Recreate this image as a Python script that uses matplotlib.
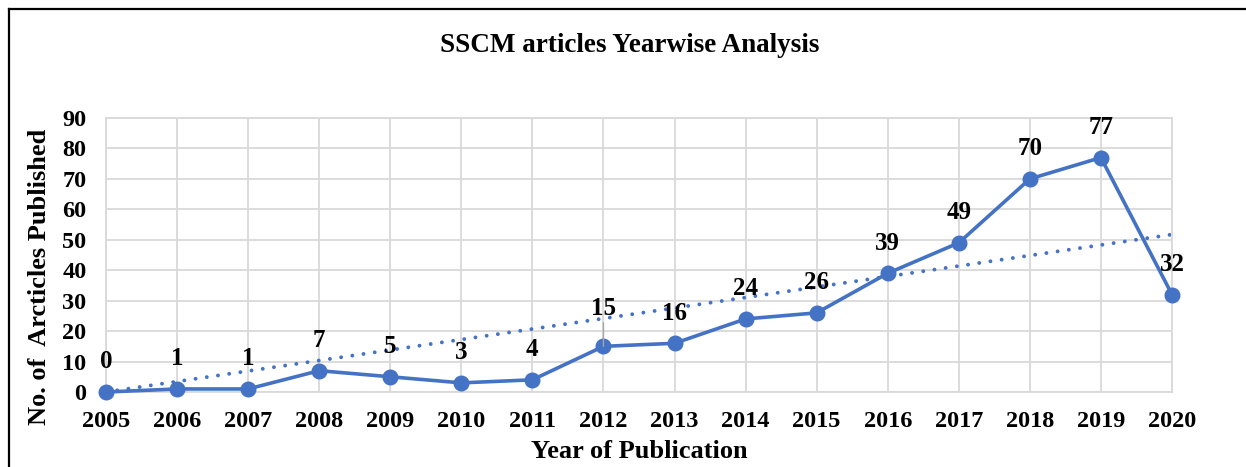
import numpy as np
import matplotlib
matplotlib.use("Agg")
import matplotlib.pyplot as plt
from matplotlib.lines import Line2D

plt.rcParams["font.family"] = ["Liberation Serif", "DejaVu Serif"]
plt.rcParams["font.weight"] = "bold"

years = [2005, 2006, 2007, 2008, 2009, 2010, 2011, 2012,
         2013, 2014, 2015, 2016, 2017, 2018, 2019, 2020]
articles = [0, 1, 1, 7, 5, 3, 4, 15, 16, 24, 26, 39, 49, 70, 77, 32]

blue = "#4472C4"
grid_c = "#D9D9D9"

W, H = 1246, 467
fig = plt.figure(figsize=(W / 100, H / 100), dpi=100)
ax = fig.add_axes([106 / W, 1 - 392 / H, (1172 - 106) / W, (392 - 118) / H])

x = np.array(years)
y = np.array(articles)

# linear trendline, intercept fixed at zero
idx = x - x[0]
k = (idx * y).sum() / (idx * idx).sum()
ax.plot(x, k * idx, color=blue, lw=2.8, linestyle=(0, (0.01, 2.9)),
        dash_capstyle="round", zorder=2)

ax.plot(x, y, color=blue, lw=2.6, marker="o", markersize=10.5,
        clip_on=False, zorder=3)

for xi, yi in zip(years, articles):
    if yi == 15:
        # label dragged up with a leader line
        ax.annotate(str(yi), (xi, yi), xytext=(0, 38 * 0.72), textcoords="offset points",
                    ha="center", va="center", fontsize=18, fontweight="bold",
                    arrowprops=dict(arrowstyle="-", color="#A6A6A6", lw=1,
                                    shrinkA=0, shrinkB=0))
    else:
        ax.annotate(str(yi), (xi, yi), xytext=(0, 30 * 0.72), textcoords="offset points",
                    ha="center", va="center", fontsize=18, fontweight="bold")

ax.set_xlim(2005, 2020)
ax.set_ylim(0, 90)
ax.set_xticks(years)
ax.set_yticks(range(0, 91, 10))
ax.tick_params(axis="x", length=0, pad=14, labelsize=17.5)
ax.tick_params(axis="y", length=0, pad=14, labelsize=17.5)
ax.grid(True, color=grid_c, lw=1.3)
ax.set_axisbelow(True)
for s in ax.spines.values():
    s.set_color(grid_c)
    s.set_linewidth(1.3)

ax.set_xlabel("Year of Publication", fontsize=19, fontweight="bold")
ax.xaxis.set_label_coords(0.5, -(452 - 392) / (392 - 118))
ax.set_ylabel("No. of  Arcticles Published", fontsize=19, fontweight="bold")
ax.yaxis.set_label_coords((40 - 106) / (1172 - 106), (392 - 277) / (392 - 118))
ax.xaxis.label.set_va("center")
ax.yaxis.label.set_va("center")

fig.text(630 / W, 1 - 45 / H, "SSCM articles Yearwise Analysis", ha="center", va="center",
         fontsize=19.5, fontweight="bold")

# outer frame (left and top edge visible)
fig.add_artist(Line2D([9 / W, 9 / W], [0, 1 - 9 / H], transform=fig.transFigure,
                      color="black", lw=1.6))
fig.add_artist(Line2D([9 / W, 1], [1 - 9 / H, 1 - 9 / H], transform=fig.transFigure,
                      color="black", lw=1.6))

fig.savefig("out.png", dpi=100, facecolor="white")
